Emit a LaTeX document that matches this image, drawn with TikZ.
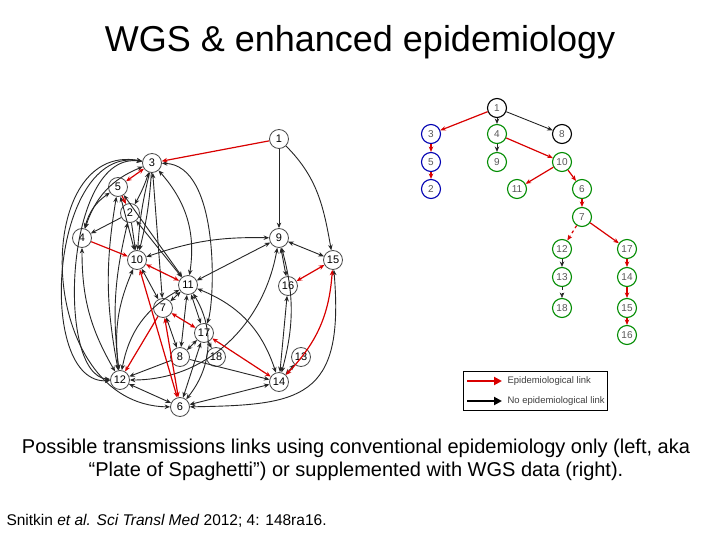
\documentclass[tikz,border=0pt]{standalone}
\usepackage{fontspec}
\setmainfont{Liberation Sans}
\usetikzlibrary{arrows.meta}
\begin{document}
\begin{tikzpicture}[x=1pt,y=-1pt,
  ln/.style={circle,draw=black!70,fill=white,line width=0.8pt,minimum size=19pt,inner sep=0pt,font=\fontsize{11}{11}\selectfont},
  tn/.style={circle,fill=white,line width=1.1pt,minimum size=19pt,inner sep=0pt,font=\fontsize{10}{10}\selectfont,text=black!65},
  bl/.style={draw=black!85,line width=0.9pt,-{Stealth[length=5.5pt,width=4.5pt]}},
  bb/.style={bl,{Stealth[length=5.5pt,width=4.5pt]}-{Stealth[length=5.5pt,width=4.5pt]}},
  rl/.style={draw=red!85!black,line width=1.2pt,-{Stealth[length=5.5pt,width=4.5pt]}},
  rb/.style={rl,{Stealth[length=5.5pt,width=4.5pt]}-{Stealth[length=5.5pt,width=4.5pt]}},
]
\useasboundingbox (0,0) rectangle (720,540);
\fill[white] (0,0) rectangle (720,540);
\node[font=\fontsize{36}{36}\selectfont] (title) at (360,42) {WGS \& enhanced epidemiology};
% left graph
\foreach \n/\x/\y in {1/279/139,3/152/163,5/118/187,2/130/213,4/82/238,10/137/260,11/188/285,7/163/308,17/204/333,8/180/357,18/216/357,12/120/380,6/180/407,9/279/238,15/333/260,16/288/286,13/301/357,14/279/382}
  \node[ln] (L\n) at (\x,\y) {\n};
% black edges
\draw[bl] (L1) -- (L9);
\draw[bl] (L1) to[out=-45,in=100] (L15);
\draw[bb] (L3) to[bend left=5] (L2);
\draw[bl] (L3) to[bend left=5] (L10);
\draw[bl] (L3) to[bend right=5] (L10);
\draw[bb] (L3) to[bend right=25] (L4);
\draw[bb] (L3) .. controls (65,150) and (55,375) .. (L12);
\draw[bb] (L3) .. controls (50,145) and (35,385) .. (L12);
\draw[bb] (L3) .. controls (30,140) and (35,405) .. (L6);
\draw[bb] (L3) to[bend left=25] (L11);
\draw[bb] (L3) .. controls (220,165) and (215,300) .. (L17);
\draw[bb] (L3) -- (L7);
\draw[bb] (L5) to[bend right=20] (L4);
\draw[bb] (L5) -- (L10);
\draw[bb] (L5) -- (L11);
\draw[bb] (L5) to[bend right=10] (L12);
\draw[bl] (L2) -- (L4);
\draw[bl] (L2) -- (L10);
\draw[bb] (L2) -- (L11);
\draw[bb] (L2) to[bend right=10] (L12);
\draw[bb] (L4) to[bend right=15] (L12);
\draw[bb] (L10) to[bend left=10] (L9);
\draw[bb] (L10) to[bend right=15] (L12);
\draw[bb] (L10) -- (L7);
\draw[bb] (L11) -- (L9);
\draw[bb] (L11) -- (L7);
\draw[bb] (L11) -- (L8);
\draw[bb] (L11) -- (L17);
\draw[bb] (L11) to[bend left=25] (L14);
\draw[bb] (L11) to[bend left=35] (L6);
\draw[bb] (L11) to[bend right=25] (L12);
\draw[bb] (L7) -- (L8);
\draw[bb] (L17) -- (L8);
\draw[bl] (L17) -- (L18);
\draw[bb] (L17) -- (L6);
\draw[bl] (L8) -- (L12);
\draw[bl] (L8) -- (L14);
\draw[bb] (L12) -- (L6);
\draw[bb] (L12) to[out=0,in=-100] (L9);
\draw[bb] (L6) -- (L14);
\draw[bb] (L6) .. controls (300,405) and (345,400) .. (L15);
\draw[bb] (L9) -- (L15);
\draw[bb] (L9) -- (L16);
\draw[bb] (L16) -- (L14);
\draw[bb] (L9) to[bend left=15] (L14);
\draw[bb] (L14) -- (L13);
% red edges
\draw[rl] (L1) -- (L3);
\draw[rb] (L3) -- (L5);
\draw[rl] (L5) -- (L2);
\draw[rl] (L4) -- (L10);
\draw[rb] (L10) -- (L11);
\draw[rb] (L10) -- (L6);
\draw[rb] (L7) -- (L6);
\draw[rl] (L7) -- (L12);
\draw[rb] (L7) -- (L17);
\draw[rb] (L17) -- (L14);
\draw[rb] (L16) -- (L15);
\draw[rb] (L15) to[bend left=20] (L14);
% right tree
\foreach \n/\x/\y/\c in {1/497/108/black,3/431/134/blue!70!black,4/497/134/green!55!black,8/562/134/black,5/431/162/blue!70!black,9/497/162/green!55!black,10/562/162/green!55!black,2/431/189/blue!70!black,11/517/189/green!55!black,6/582/189/green!55!black,7/582/217/green!55!black,12/562/249/green!55!black,17/627/249/green!55!black,13/562/277/green!55!black,14/627/277/green!55!black,18/562/308/green!55!black,15/627/308/green!55!black,16/627/335/green!55!black}
  \node[tn,draw=\c] (R\n) at (\x,\y) {\n};
\draw[rl] (R1) -- (R3);
\draw[rl] (R3) -- (R5);
\draw[rl] (R5) -- (R2);
\draw[bl] (R1) -- (R4);
\draw[bl] (R1) -- (R8);
\draw[bl] (R4) -- (R9);
\draw[rl] (R4) -- (R10);
\draw[rl] (R10) -- (R11);
\draw[rl] (R10) -- (R6);
\draw[rl] (R6) -- (R7);
\draw[rl,dashed] (R7) -- (R12);
\draw[rl] (R7) -- (R17);
\draw[bl] (R12) -- (R13);
\draw[bl,dashed,line width=0.5pt] (R13) -- (R18);
\draw[rl] (R17) -- (R14);
\draw[rl] (R14) -- (R15);
\draw[rl] (R15) -- (R16);
% legend
\node[draw=black,line width=0.8pt,minimum width=144pt,minimum height=39pt,inner sep=0pt] (leg) at (535,390.5) {};
\coordinate (a1) at (467,381); \coordinate (a2) at (502,381);
\coordinate (b1) at (467,401); \coordinate (b2) at (502,401);
\draw[red!85!black,line width=2pt,-{Triangle[length=8pt,width=8pt]}] (a1) -- (a2);
\draw[black,line width=2pt,-{Triangle[length=8pt,width=8pt]}] (b1) -- (b2);
\node[anchor=west,font=\fontsize{9.5}{9.5}\selectfont,text=black!75] (lt1) at (504,381) {Epidemiological link};
\node[anchor=west,font=\fontsize{9.5}{9.5}\selectfont,text=black!75] (lt2) at (504,401) {No epidemiological link};
% captions
\node[align=center,font=\fontsize{20}{23.5}\selectfont] (cap) at (356,460) {Possible transmissions links using conventional epidemiology only (left, aka\\ “Plate of Spaghetti”) or supplemented with WGS data (right).};
\node[anchor=west,font=\fontsize{15.5}{15.5}\selectfont] (cite) at (3,521) {Snitkin \textit{et al. Sci Transl Med} 2012; 4: 148ra16.};
\end{tikzpicture}
\end{document}
